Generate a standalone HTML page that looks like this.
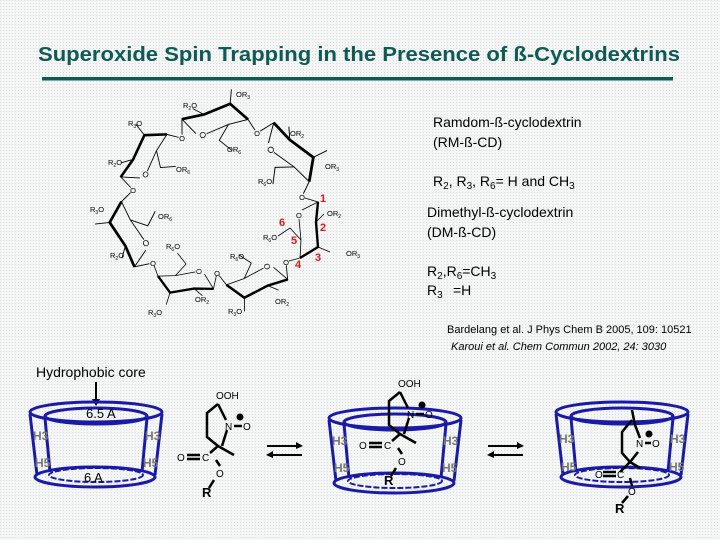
<!DOCTYPE html>
<html><head><meta charset="utf-8"><style>
html,body{margin:0;padding:0;background:#eef0ef}
svg{display:block}
text{font-family:"Liberation Sans",sans-serif}
</style></head><body>
<svg width="720" height="540" viewBox="0 0 720 540" xmlns="http://www.w3.org/2000/svg">
<defs>
<pattern id="dots" width="3" height="3" patternUnits="userSpaceOnUse"><rect width="3" height="3" fill="#f4f5f5"/><rect width="1" height="1" fill="#d8dcdc"/></pattern>
<g id="unit" fill="none" stroke="#000">
<path d="M305,198 L318,202 L302,210 M299,219 L301,240 L300,258 L289,261" stroke-width="0.8"/>
<path d="M318,202 L316,222 L318,247 L300,258" stroke-width="2.4"/>
<path d="M316,222 L324,214 M318,247 L330,252 M301,240 L290,228 L278,236" stroke-width="0.8"/>
<text x="296" y="218" font-size="7.5" fill="#000" stroke="none">O</text>
</g>
</defs>
<rect width="720" height="540" fill="url(#dots)"/>
<text x="38" y="61" font-size="20" font-weight="bold" fill="#0e5a55" textLength="642" lengthAdjust="spacingAndGlyphs">Superoxide Spin Trapping in the Presence of ß-Cyclodextrins</text>
<rect x="42" y="77" width="631" height="3.5" fill="#0e5a55"/>

<!-- cyclodextrin ring -->
<g>
<use href="#unit"/>
<use href="#unit" transform="translate(182,138) rotate(-107.6) scale(1.124) translate(-302,-197)"/>
<use href="#unit" transform="translate(257,133) rotate(-48.9) scale(1.169) translate(-302,-197)"/>
<use href="#unit" transform="translate(286,262) rotate(67.1) scale(1.045) translate(-302,-197)"/>
<use href="#unit" transform="translate(217,273) rotate(85.1) scale(0.969) translate(-302,-197)"/>
<use href="#unit" transform="translate(153,263) rotate(150.9) scale(1.131) translate(-302,-197)"/>
<use href="#unit" transform="translate(133,190) rotate(-150.5) scale(1.067) translate(-302,-197)"/>
</g>
<g font-size="7.5" fill="#000">
<text x="236" y="97">OR<tspan font-size="5" dy="2">3</tspan></text>
<text x="183" y="108">R<tspan font-size="5" dy="2">2</tspan><tspan dy="-2">O</tspan></text>
<text x="128" y="126">R<tspan font-size="5" dy="2">3</tspan><tspan dy="-2">O</tspan></text>
<text x="227" y="152">OR<tspan font-size="5" dy="2">6</tspan></text>
<text x="290" y="136">OR<tspan font-size="5" dy="2">2</tspan></text>
<text x="325" y="169">OR<tspan font-size="5" dy="2">3</tspan></text>
<text x="258" y="184">R<tspan font-size="5" dy="2">6</tspan><tspan dy="-2">O</tspan></text>
<text x="108" y="165">R<tspan font-size="5" dy="2">2</tspan><tspan dy="-2">O</tspan></text>
<text x="176" y="172">OR<tspan font-size="5" dy="2">6</tspan></text>
<text x="90" y="212">R<tspan font-size="5" dy="2">3</tspan><tspan dy="-2">O</tspan></text>
<text x="158" y="219">OR<tspan font-size="5" dy="2">6</tspan></text>
<text x="110" y="258">R<tspan font-size="5" dy="2">2</tspan><tspan dy="-2">O</tspan></text>
<text x="166" y="249">R<tspan font-size="5" dy="2">6</tspan><tspan dy="-2">O</tspan></text>
<text x="230" y="259">R<tspan font-size="5" dy="2">6</tspan><tspan dy="-2">O</tspan></text>
<text x="195" y="302">OR<tspan font-size="5" dy="2">2</tspan></text>
<text x="275" y="304">OR<tspan font-size="5" dy="2">2</tspan></text>
<text x="148" y="315">R<tspan font-size="5" dy="2">3</tspan><tspan dy="-2">O</tspan></text>
<text x="228" y="314">R<tspan font-size="5" dy="2">3</tspan><tspan dy="-2">O</tspan></text>
<text x="327" y="216">OR<tspan font-size="5" dy="2">2</tspan></text>
<text x="346" y="256">OR<tspan font-size="5" dy="2">3</tspan></text>
<text x="263" y="240">R<tspan font-size="5" dy="2">6</tspan><tspan dy="-2">O</tspan></text>
</g>
<g font-size="7.5" fill="#000" text-anchor="middle">
<text x="182" y="141">O</text><text x="257" y="136">O</text><text x="302" y="200">O</text><text x="286" y="265">O</text><text x="217" y="276">O</text><text x="153" y="266">O</text><text x="133" y="193">O</text>
</g>
<g font-size="11" font-weight="bold" fill="#d02020">
<text x="320" y="202">1</text><text x="320" y="231">2</text><text x="315" y="261">3</text><text x="295" y="268">4</text><text x="291" y="244">5</text><text x="279" y="226">6</text>
</g>

<!-- right text -->
<g font-size="14" fill="#000">
<text x="433" y="127">Ramdom-ß-cyclodextrin</text>
<text x="433" y="147">(RM-ß-CD)</text>
<text x="433" y="186">R<tspan font-size="10" dy="3">2</tspan><tspan dy="-3">, R</tspan><tspan font-size="10" dy="3">3</tspan><tspan dy="-3">, R</tspan><tspan font-size="10" dy="3">6</tspan><tspan dy="-3">= H and CH</tspan><tspan font-size="10" dy="3">3</tspan></text>
<text x="427" y="217">Dimethyl-ß-cyclodextrin</text>
<text x="427" y="237">(DM-ß-CD)</text>
<text x="427" y="276">R<tspan font-size="10" dy="3">2</tspan><tspan dy="-3">,R</tspan><tspan font-size="10" dy="3">6</tspan><tspan dy="-3">=CH</tspan><tspan font-size="10" dy="3">3</tspan></text>
<text x="427" y="295">R<tspan font-size="10" dy="3">3</tspan><tspan dy="-3" x="453">=H</tspan></text>
</g>
<text x="447" y="333" font-size="11">Bardelang et al. J Phys Chem B 2005, 109: 10521</text>
<text x="451" y="350" font-size="11" font-style="italic">Karoui et al. Chem Commun 2002, 24: 3030</text>

<!-- hydrophobic core -->
<text x="36" y="377" font-size="14">Hydrophobic core</text>
<line x1="96" y1="382" x2="96" y2="400" stroke="#000" stroke-width="2"/>
<polygon points="92,399 100,399 96,406" fill="#000"/>

<!-- cups -->
<g id="cup1" fill="none" stroke="#1a1aa8" stroke-width="3">
<ellipse cx="96" cy="412" rx="66" ry="10"/>
<ellipse cx="96" cy="416" rx="51" ry="8"/>
<ellipse cx="95" cy="477" rx="60" ry="10"/>
<ellipse cx="96" cy="475" rx="47" ry="7" stroke-dasharray="6,2" stroke-width="2"/>
<line x1="30" y1="414" x2="37" y2="475"/><line x1="162" y1="414" x2="155" y2="475"/>
<line x1="45" y1="418" x2="50" y2="472"/><line x1="147" y1="418" x2="142" y2="472"/>
</g>
<use href="#cup1" transform="translate(299,6)"/>
<use href="#cup1" transform="translate(526,0)"/>
<g font-size="12" font-weight="bold" fill="#777">
<text x="33" y="440">H3</text><text x="145" y="440">H3</text><text x="35" y="467">H5</text><text x="143" y="467">H5</text>
<text x="332" y="445">H3</text><text x="443" y="445">H3</text><text x="334" y="472">H5</text><text x="442" y="472">H5</text>
<text x="559" y="443">H3</text><text x="670" y="443">H3</text><text x="561" y="471">H5</text><text x="669" y="471">H5</text>
</g>
<text x="86" y="418" font-size="13">6.5 A</text>
<text x="84" y="482" font-size="13">6 A</text>

<!-- molecule -->
<g id="mol">
<g fill="none" stroke="#000" stroke-width="2.5">
<path d="M218,404 L207,413 L207,437 L218,446 M218,404 L226,420 M222,446 L227,430 M218,446 L234,455 M218,446 L210,453 M216,460 L220,466 M214,480 L209,488"/>
<path d="M187,455 L200,455 M187,459 L200,459 M234,426 L242,426"/>
</g>
<circle cx="240" cy="417" r="3.5" fill="#000"/>
<g font-size="10" fill="#000"><text x="216" y="399">OOH</text><text x="225" y="430">N</text><text x="243" y="430">O</text><text x="177" y="461">O</text><text x="202" y="461">C</text><text x="216" y="477">O</text></g>
<text x="202" y="497" font-size="13" font-weight="bold">R</text>
</g>
<use href="#mol" transform="translate(182,-12)"/>
<!-- molecule 3 -->
<g fill="none" stroke="#000" stroke-width="2.5">
<path d="M632,410 L635,425 L640,438 M632,420 L622,432 L622,453 L630,462 L638,452 M630,462 L640,468 M630,462 L620,472 M630,478 L632,486 M628,496 L622,503"/>
<path d="M603,472 L616,472 M603,476 L616,476 M645,443 L651,443"/>
</g>
<circle cx="649" cy="434" r="3.5" fill="#000"/>
<g font-size="10" fill="#000"><text x="636" y="447">N</text><text x="652" y="447">O</text><text x="595" y="478">O</text><text x="617" y="478">C</text><text x="628" y="495">O</text></g>
<text x="615" y="513" font-size="13" font-weight="bold">R</text>

<!-- equilibrium arrows -->
<g stroke="#000" stroke-width="2" fill="#000">
<line x1="267" y1="446" x2="297" y2="446"/><polygon points="296,442 303,446 296,449" stroke="none"/>
<line x1="272" y1="455" x2="302" y2="455"/><polygon points="273,451 266,455 273,458" stroke="none"/>
<line x1="488" y1="446" x2="518" y2="446"/><polygon points="517,442 524,446 517,449" stroke="none"/>
<line x1="493" y1="455" x2="523" y2="455"/><polygon points="494,451 487,455 494,458" stroke="none"/>
</g>
</svg>
</body></html>
